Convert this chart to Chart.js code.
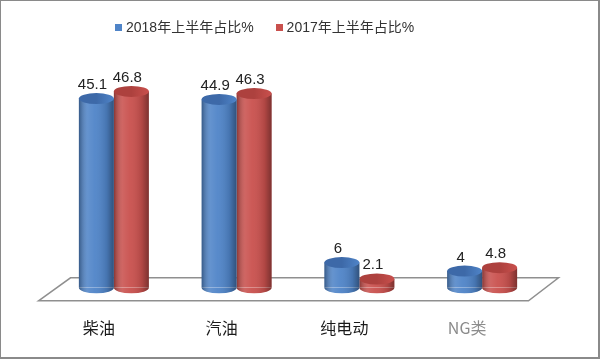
<!DOCTYPE html>
<html>
<head>
<meta charset="utf-8">
<script src="https://cdn.jsdelivr.net/npm/chart.js@4.4.1/dist/chart.umd.min.js"></script>
<style>
  html, body { margin: 0; padding: 0; background: #fff; }
  #wrap {
    position: relative; width: 600px; height: 359px; box-sizing: border-box;
    border: 1px solid #8a8a8a; border-right: 2px solid #8a8a8a; border-bottom: 2px solid #8a8a8a;
    background: #fff;
  }
  #legend {
    position: absolute; left: 114px; top: 15px; white-space: nowrap;
    font: 14px "Liberation Sans", "Noto Sans CJK SC", sans-serif; color: #333;
  }
  #legend span.item { display: inline-block; margin-right: 22px; }
  #legend i { display: inline-block; width: 7px; height: 7px; margin-right: 4px; vertical-align: 1px; }
</style>
</head>
<body>
<div id="wrap">
  <canvas id="chart"></canvas>
  <div id="legend"></div>
</div>
<script>
const categories = ["柴油", "汽油", "纯电动", "NG类"];
const seriesNames = ["2018年上半年占比%", "2017年上半年占比%"];
const share2018 = [45.1, 44.9, 6, 4];
const share2017 = [46.8, 46.3, 2.1, 4.8];

const bodyColors = ["#4f84c8", "#c9504d"];
const capColors = ["#3d69a8", "#ad413e"];

// legend as plain html
const legendBox = document.getElementById("legend");
seriesNames.forEach((name, i) => {
  const s = document.createElement("span");
  s.className = "item";
  s.innerHTML = '<i style="background:' + bodyColors[i] + '"></i>' + name;
  legendBox.appendChild(s);
});

const RY = 5.5;

// floor behind the bars
const floorPlugin = {
  id: "floor",
  beforeDatasetsDraw(chart) {
    const a = chart.chartArea;
    const c = chart.ctx;
    const base = chart.scales.y.getPixelForValue(0);
    c.save();
    c.beginPath();
    c.moveTo(a.left - 14, base + 13);
    c.lineTo(a.left + 18, base - 10);
    c.lineTo(a.right + 15, base - 10);
    c.lineTo(a.right - 15, base + 13);
    c.closePath();
    c.fillStyle = "#ffffff";
    c.fill();
    c.strokeStyle = "#8f8f8f";
    c.lineWidth = 1.5;
    c.stroke();
    c.restore();
  }
};

// shading + elliptical caps to make cylinders
const cylinderPlugin = {
  id: "cylinder",
  afterDatasetDraw(chart, args) {
    const c = chart.ctx;
    const meta = args.meta;
    const i = args.index;
    meta.data.forEach((el) => {
      const p = el.getProps(["x", "y", "base", "width"], true);
      const l = p.x - p.width / 2, r = p.x + p.width / 2, rx = p.width / 2;
      // bottom half ellipse
      c.save();
      c.beginPath();
      c.ellipse(p.x, p.base, rx, RY, 0, 0, Math.PI);
      c.fillStyle = bodyColors[i];
      c.fill();
      // shading over body
      const g = c.createLinearGradient(l, 0, r, 0);
      g.addColorStop(0, "rgba(0,0,0,0.32)");
      g.addColorStop(0.25, "rgba(255,255,255,0.12)");
      g.addColorStop(0.45, "rgba(255,255,255,0.05)");
      g.addColorStop(0.8, "rgba(0,0,0,0.12)");
      g.addColorStop(1, "rgba(0,0,0,0.38)");
      c.beginPath();
      c.moveTo(l, p.y);
      c.lineTo(r, p.y);
      c.lineTo(r, p.base);
      c.ellipse(p.x, p.base, rx, RY, 0, 0, Math.PI);
      c.closePath();
      c.fillStyle = g;
      c.fill();
      // top cap
      c.beginPath();
      c.ellipse(p.x, p.y, rx, RY, 0, 0, Math.PI * 2);
      const gc = c.createLinearGradient(l, 0, r, 0);
      gc.addColorStop(0, capColors[i]);
      gc.addColorStop(0.5, capColors[i]);
      gc.addColorStop(1, bodyColors[i]);
      c.fillStyle = gc;
      c.fill();
      c.restore();
    });
  }
};

// value labels above each cylinder
const valuePlugin = {
  id: "values",
  afterDatasetsDraw(chart) {
    const c = chart.ctx;
    c.save();
    c.font = '15px "Liberation Sans", sans-serif';
    c.fillStyle = "#222";
    c.textAlign = "center";
    c.textBaseline = "alphabetic";
    chart.data.datasets.forEach((ds, i) => {
      chart.getDatasetMeta(i).data.forEach((el, j) => {
        const p = el.getProps(["x", "y"], true);
        c.fillText(String(ds.data[j]), p.x - 4, p.y - RY - 4);
      });
    });
    c.restore();
  }
};

new Chart(document.getElementById("chart"), {
  type: "bar",
  data: {
    labels: categories,
    datasets: [
      { label: seriesNames[0], data: share2018, backgroundColor: bodyColors[0] },
      { label: seriesNames[1], data: share2017, backgroundColor: bodyColors[1] }
    ]
  },
  options: {
    responsive: true,
    maintainAspectRatio: false,
    animation: false,
    categoryPercentage: 0.57,
    barPercentage: 1.0,
    layout: { padding: { top: 77, left: 51.5, right: 54.5, bottom: 19 } },
    plugins: { legend: { display: false }, tooltip: { enabled: false } },
    scales: {
      x: {
        grid: { display: false, drawTicks: true, tickLength: 31 },
        border: { display: false },
        ticks: {
          padding: 0,
          labelOffset: -15,
          font: { size: 16, family: '"Noto Sans CJK SC", "Liberation Sans", sans-serif' },
          color: (ctx) => (ctx.index === 3 ? "#8c8c8c" : "#1a1a1a")
        }
      },
      y: { display: false, min: 0, max: 50 }
    }
  },
  plugins: [floorPlugin, cylinderPlugin, valuePlugin]
});
</script>
</body>
</html>
